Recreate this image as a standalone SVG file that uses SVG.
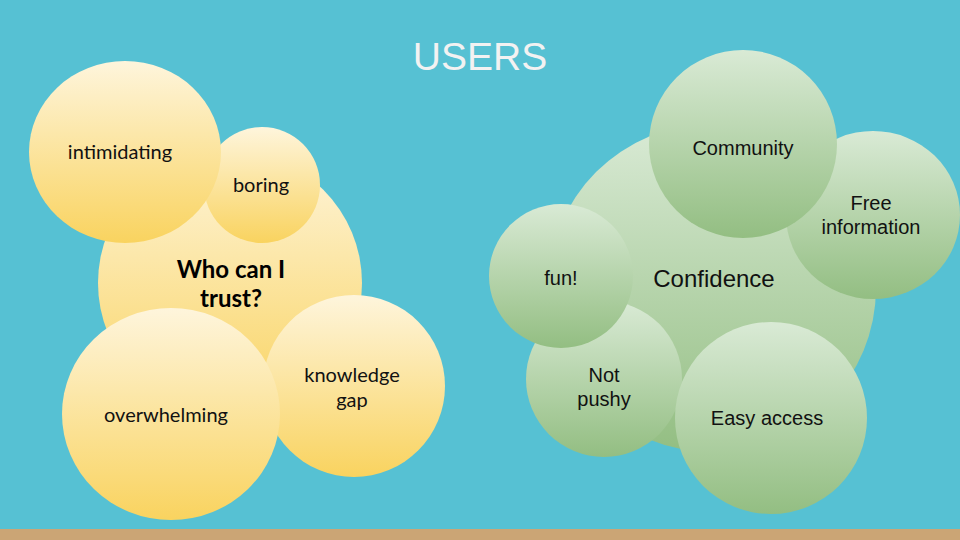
<svg xmlns="http://www.w3.org/2000/svg" width="960" height="540" viewBox="0 0 960 540">
<defs>
<linearGradient id="gy" x1="0" y1="0" x2="0" y2="1">
<stop offset="0" stop-color="#FEF5DC"/>
<stop offset="1" stop-color="#F9D35F"/>
</linearGradient>
<linearGradient id="gg" x1="0" y1="0" x2="0" y2="1">
<stop offset="0" stop-color="#D9EAD5"/>
<stop offset="1" stop-color="#93BE82"/>
</linearGradient>
<style>
.y{fill:url(#gy)}
.g{fill:url(#gg)}
.lt{font-family:Lato,"Noto Sans",sans-serif;font-size:20px;fill:#111;text-anchor:middle}
.lb{font-family:Lato,"Noto Sans",sans-serif;font-size:24px;font-weight:bold;fill:#000;text-anchor:middle}
.rt{font-family:"Liberation Sans",Arial,sans-serif;font-size:20px;fill:#111;text-anchor:middle}
.big{font-size:24px}
</style>
</defs>
<rect x="0" y="0" width="960" height="540" fill="#56C1D3"/>
<rect x="0" y="529" width="960" height="11" fill="#CBA575"/>
<text x="480" y="70" font-family="'Liberation Sans',Arial,sans-serif" font-size="39" fill="#F2F2F2" text-anchor="middle">USERS</text>
<g id="connectors"/>
<g id="who"><circle class="y" cx="230" cy="283" r="132"/><text class="lb" x="231" y="278">Who can I</text><text class="lb" x="231" y="307">trust?</text></g>
<g id="boring"><circle class="y" cx="262" cy="185" r="58"/><text class="lt" x="261" y="192">boring</text></g>
<g id="intimidating"><ellipse class="y" cx="125" cy="152" rx="96" ry="91"/><text class="lt" x="120" y="159">intimidating</text></g>
<g id="knowledge"><circle class="y" cx="354" cy="386" r="91"/><text class="lt" x="352" y="382">knowledge</text><text class="lt" x="352" y="407">gap</text></g>
<g id="overwhelming"><ellipse class="y" cx="171" cy="414" rx="109" ry="106"/><text class="lt" x="166" y="422">overwhelming</text></g>
<g id="confidence"><circle class="g" cx="712" cy="288" r="164"/><text class="rt big" x="714" y="287">Confidence</text></g>
<g id="free"><ellipse class="g" cx="873" cy="215" rx="87" ry="84"/><text class="rt" x="871" y="210">Free</text><text class="rt" x="871" y="234">information</text></g>
<g id="community"><circle class="g" cx="743" cy="144" r="94"/><text class="rt" x="743" y="155">Community</text></g>
<g id="notpushy"><circle class="g" cx="604" cy="379" r="78"/><text class="rt" x="604" y="382">Not</text><text class="rt" x="604" y="406">pushy</text></g>
<g id="fun"><circle class="g" cx="561" cy="276" r="72"/><text class="rt" x="561" y="285">fun!</text></g>
<g id="easy"><circle class="g" cx="771" cy="418" r="96"/><text class="rt" x="767" y="425">Easy access</text></g>
</svg>
